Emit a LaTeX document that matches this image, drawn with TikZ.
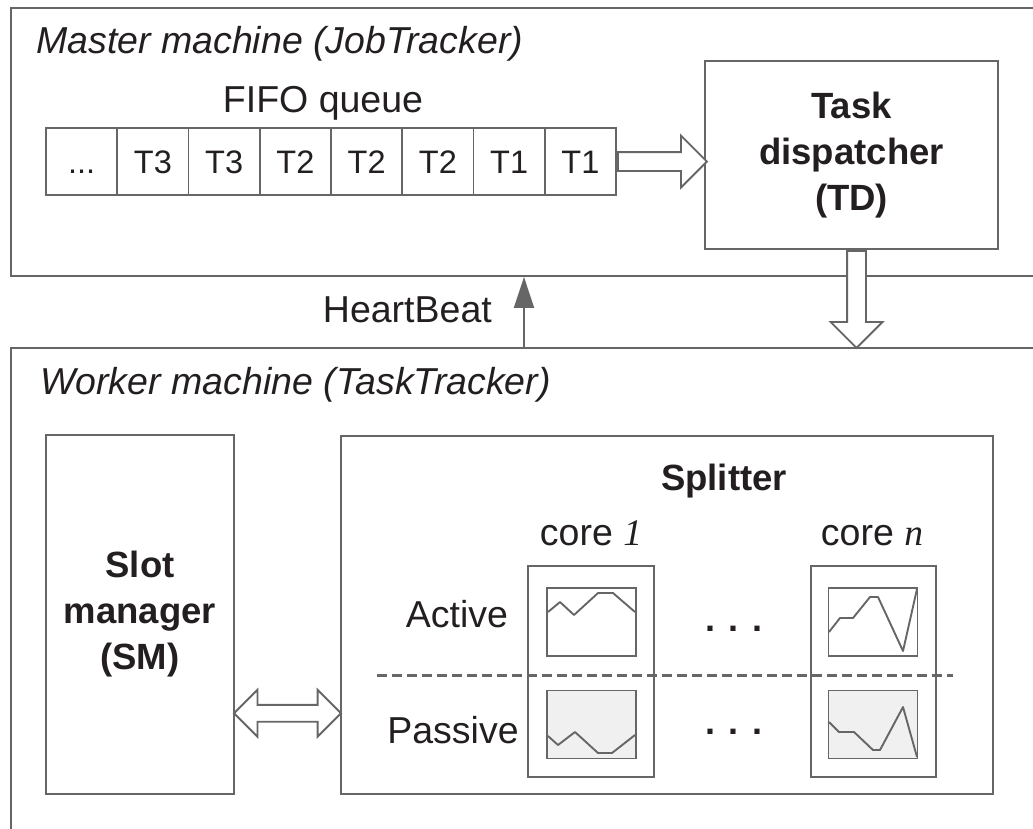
\documentclass[tikz,border=0pt]{standalone}
\usepackage{fontspec}
\setmainfont{Liberation Sans}
\newfontfamily\serifnum{Liberation Serif}
\usetikzlibrary{arrows.meta,shapes.arrows,calc}
\definecolor{linegray}{HTML}{666666}
\definecolor{inkblack}{HTML}{231F20}
\definecolor{idlefill}{HTML}{F0F0F0}
\newcommand\queuedots{.\kern0pt.\kern0pt.}
\begin{document}
\begin{tikzpicture}
		[x=1pt,y=-1pt,
		box/.style={draw=linegray,line width=1.9pt,inner sep=0pt},
		machine/.style={box,anchor=north west,minimum width=1060pt},
		cell/.style={box,text=inkblack,minimum width=71.25pt,minimum height=67pt,
			text height=23.5pt,text depth=0pt,font=\fontsize{32.5}{40}\selectfont},
		block/.style={box,text=inkblack,align=center,
			font=\fontsize{36.5}{46}\selectfont\bfseries},
		plain/.style={text=inkblack,inner sep=0pt,font=\fontsize{37.5}{45}\selectfont},
		chart/.style={box,minimum width=89pt,minimum height=68pt},
		trace/.style={draw=linegray,line width=1.9pt,line join=round},
		hollow/.style={draw=linegray,fill=white,line width=1.9pt,inner xsep=0pt},
		rightarrow/.style={hollow,single arrow,single arrow head extend=16.5pt,inner ysep=8.5pt},
		bothways/.style={hollow,double arrow,double arrow head extend=15pt,inner ysep=7.5pt},
		beat/.style={draw=linegray,line width=1.9pt,-{Triangle[length=31pt,width=20pt]}},
		divider/.style={draw=linegray,line width=3pt,dash pattern=on 10pt off 5pt}
	]
		\useasboundingbox (0,0) rectangle (1033,828);
		\clip (0,0) rectangle (1033,828);
		\node[machine,minimum height=268pt] (master) at (10,7) {};
		\node[machine,minimum height=500pt] (worker) at (10,347) {};
		\node[plain,anchor=base west] (mastertitle) at (36,53) {\itshape Master machine (JobTracker)};
		\node[plain,anchor=base west] (workertitle) at (40,394) {\itshape Worker machine (TaskTracker)};
		\node[plain,anchor=base] (fifo) at (323,112) {FIFO queue};
		\foreach \t [count=\i] in {\queuedots,T3,T3,T2,T2,T2,T1,T1}
			\node[cell] (c\i) at ({46+(\i-0.5)*71.25},161.5) {\t};
		\node[block,minimum width=293pt,minimum height=188pt] (td) at (851.5,155) {Task\\dispatcher\\(TD)};
		\node[rightarrow,minimum height=89pt,anchor=tail] (qarrow) at (c8.east) {};
		\node[rightarrow,rotate=-90,minimum height=97pt,anchor=tail] (tdarrow) at ([xshift=5pt]td.south) {};
		\coordinate (hbx) at (524,0);
		\draw[beat] (worker.north -| hbx) -- (master.south -| hbx);
		\node[plain,anchor=base east] (hblabel) at (492,322) {HeartBeat};
		\node[block,minimum width=188pt,minimum height=359pt] (sm) at (140,614.5) {Slot\\manager\\(SM)};
		\node[box,minimum width=652pt,minimum height=358pt] (splitter) at (667,615) {};
		\node[bothways,minimum height=107pt] (smarrow) at ($(sm.east)!0.5!(splitter.west)+(0,98.5)$) {};
		\node[plain,anchor=base,font=\fontsize{36.5}{45}\selectfont\bfseries] (splittitle) at (724,490) {Splitter};
		\node[plain,anchor=base] (core1lbl) at (591,545) {core {\serifnum\itshape 1}};
		\node[plain,anchor=base] (corenlbl) at (872,545) {core {\serifnum\itshape n}};
		\node[box,minimum width=126pt,minimum height=211pt] (core1) at (591,671.5) {};
		\node[box,minimum width=125pt,minimum height=211pt] (coren) at (873.5,671.5) {};
		\node[chart] (active1) at (591.5,622) {};
		\node[chart,fill=idlefill] (passive1) at (591.5,724.5) {};
		\node[chart] (activen) at (873,622) {};
		\node[chart,fill=idlefill] (passiven) at (873,724.5) {};
		\draw[trace] (548,612) -- (560,602) -- (574,615) -- (598,593) -- (613,593) -- (635,612);
		\draw[trace] (548,736) -- (558,745) -- (575,732) -- (598,753) -- (612,753) -- (635,735);
		\draw[trace] (829,632) -- (840,618) -- (853,618) -- (870,597) -- (878,597) -- (903,651) -- (917,589);
		\draw[trace] (829,722) -- (839,732) -- (854,732) -- (873,750) -- (880,750) -- (903,707) -- (917,757);
		\draw[divider] (377,675) -- (953,675);
		\node[plain,anchor=base] (activelbl) at (457,627) {Active};
		\node[plain,anchor=base] (passivelbl) at (453,743) {Passive};
		\node[plain,anchor=base,font=\fontsize{36}{45}\selectfont\bfseries] (dotsa) at (734,631) {. . .};
		\node[plain,anchor=base,font=\fontsize{36}{45}\selectfont\bfseries] (dotsp) at (734,734) {. . .};
	\end{tikzpicture}
\end{document}
